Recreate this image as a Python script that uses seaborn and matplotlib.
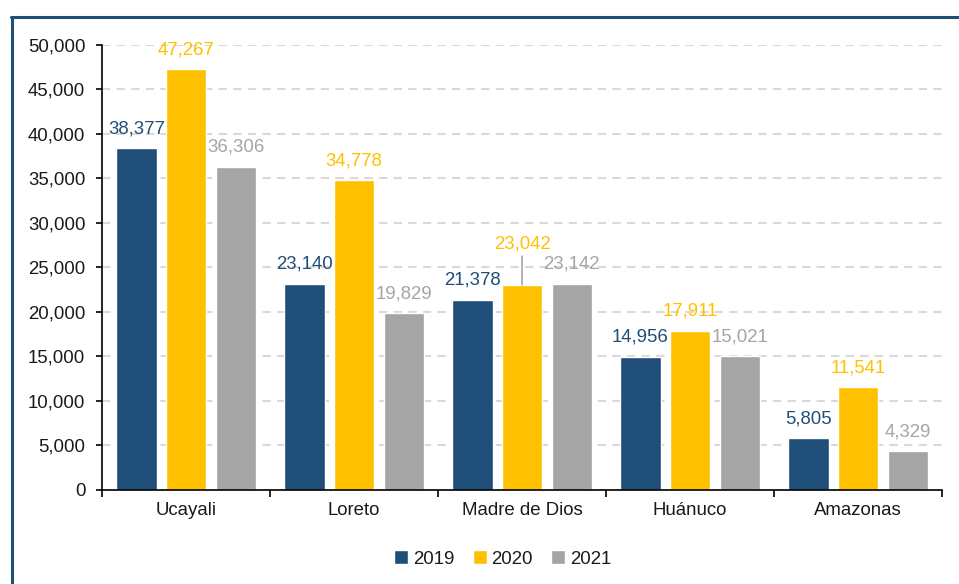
import matplotlib
matplotlib.use("Agg")
import matplotlib.pyplot as plt
from matplotlib.lines import Line2D
from matplotlib.ticker import FuncFormatter, FixedLocator
import seaborn as sns
import pandas as pd

regions = ["Ucayali", "Loreto", "Madre de Dios", "Huánuco", "Amazonas"]
years = ["2019", "2020", "2021"]
values_2019 = [38377, 23140, 21378, 14956, 5805]
values_2020 = [47267, 34778, 23042, 17911, 11541]
values_2021 = [36306, 19829, 23142, 15021, 4329]
colors = ["#1F4E79", "#FFC000", "#A5A5A5"]

df = pd.DataFrame({
    "region": regions * 3,
    "year": [y for y in years for _ in regions],
    "value": values_2019 + values_2020 + values_2021,
})

sns.set_theme(style="white")
plt.rcParams["font.family"] = ["Liberation Sans", "DejaVu Sans"]
FS = 13.4

fig = plt.figure(figsize=(9.59, 5.84), dpi=100)
ax = fig.add_axes([0.1064, 0.161, 0.8759, 0.762])

sns.barplot(data=df, x="region", y="value", hue="year", order=regions,
            hue_order=years, palette=colors, width=0.885, gap=0.19,
            errorbar=None, saturation=1, ax=ax, legend=True)

ax.set_ylim(0, 50000)
ax.set_xlim(-0.5, len(regions) - 0.5)
ax.set_yticks(range(0, 50001, 5000))
ax.yaxis.set_major_formatter(FuncFormatter(lambda v, _: f"{int(v):,}"))
ax.set_xlabel("")
ax.set_ylabel("")

# dashed horizontal gridlines
ax.yaxis.grid(True, color="#D9D9D9", linewidth=1.5, linestyle=(0, (4, 3)))
ax.set_axisbelow(True)

for side in ["top", "right"]:
    ax.spines[side].set_visible(False)
for side in ["left", "bottom"]:
    ax.spines[side].set_color("black")
    ax.spines[side].set_linewidth(1.2)

ax.tick_params(axis="y", which="major", direction="out", length=4, width=1.2,
               color="black", pad=8, labelsize=FS, labelcolor="#1a1a1a", left=True)
ax.tick_params(axis="x", which="major", length=0, pad=9, labelsize=FS,
               labelcolor="#1a1a1a")
ax.xaxis.set_minor_locator(FixedLocator([i - 0.5 for i in range(len(regions) + 1)]))
ax.tick_params(axis="x", which="minor", direction="out", length=5, width=1.2,
               color="black", bottom=True)

# value labels above bars
for cont, col in zip(ax.containers, colors):
    for i, (bar, val) in enumerate(zip(cont, cont.datavalues)):
        x = bar.get_x() + bar.get_width() / 2
        h = bar.get_height()
        if col == colors[1] and regions[i] == "Madre de Dios":
            ax.annotate(f"{int(val):,}", xy=(x, h), xytext=(0, 23),
                        textcoords="offset points", ha="center", va="bottom",
                        fontsize=FS, color=col,
                        arrowprops=dict(arrowstyle="-", color="#A5A5A5",
                                        lw=1.2, shrinkA=0, shrinkB=0))
        else:
            ax.annotate(f"{int(val):,}", xy=(x, h), xytext=(0, 8),
                        textcoords="offset points", ha="center", va="bottom",
                        fontsize=FS, color=col)

leg = ax.legend(loc="upper center", bbox_to_anchor=(0.477, -0.115), ncol=3,
                frameon=False, fontsize=FS, handlelength=0.75, handleheight=0.75,
                handletextpad=0.25, columnspacing=1.0, borderpad=0)
for t in leg.get_texts():
    t.set_color("#1a1a1a")

# frame lines along the top and left edges
fig.add_artist(Line2D([10.5 / 959, 1.0], [1 - 16.5 / 584, 1 - 16.5 / 584],
                      transform=fig.transFigure, color="#1F4E79", linewidth=2.2))
fig.add_artist(Line2D([11.5 / 959, 11.5 / 959], [0, 1 - 16.5 / 584],
                      transform=fig.transFigure, color="#1F4E79", linewidth=2.2))

fig.savefig("out.png", dpi=100)
